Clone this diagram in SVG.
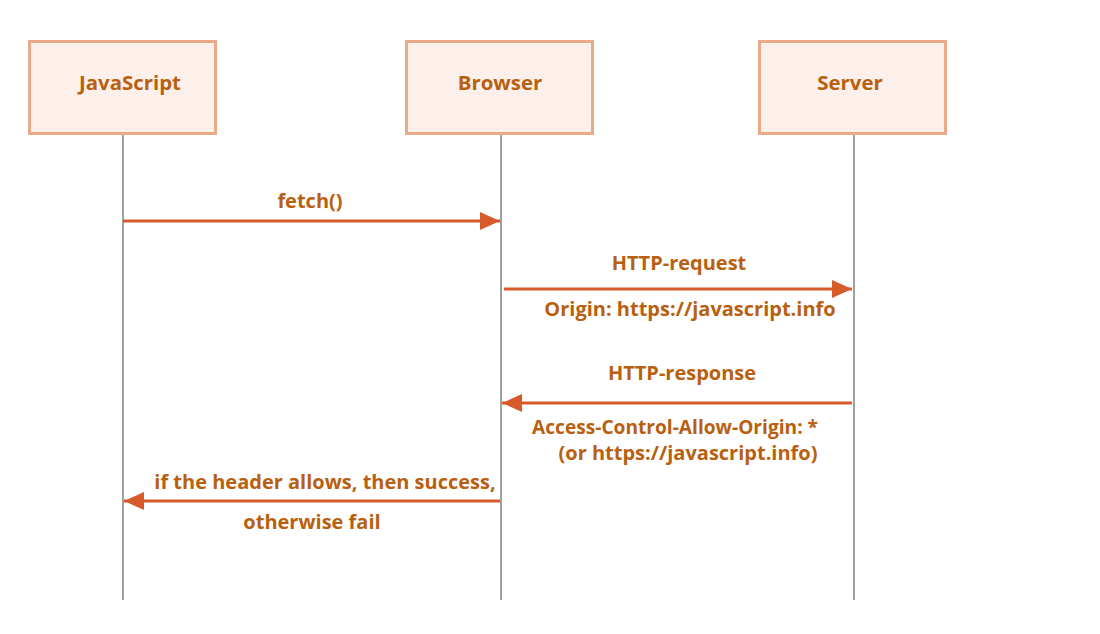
<svg xmlns="http://www.w3.org/2000/svg" width="1100" height="634" viewBox="0 0 1100 634">
<style>
.box{fill:#fdf0ea;stroke:#e9aa8a;stroke-width:3}
.life{stroke:#6e6e6e;stroke-width:1.3}
.title{font-family:"Open Sans",sans-serif;font-weight:bold;font-size:20.4px;fill:#b8600f;text-anchor:middle}
.lbl{font-family:"Open Sans",sans-serif;font-weight:bold;font-size:20px;fill:#b8600f;text-anchor:middle}
.arr{stroke:#d75a2b;stroke-width:3;fill:none}
</style>
<defs>
<marker id="ah" viewBox="0 0 20 18" refX="20" refY="9" markerWidth="20" markerHeight="18" markerUnits="userSpaceOnUse" orient="auto">
<path d="M0,0 L20,9 L0,18 Z" fill="#d75a2b"/>
</marker>
</defs>
<rect width="1100" height="634" fill="#ffffff"/>
<g id="lifelines">
<line class="life" x1="123" y1="134" x2="123" y2="600"/>
<line class="life" x1="501" y1="134" x2="501" y2="600"/>
<line class="life" x1="854" y1="134" x2="854" y2="600"/>
</g>
<g id="node-javascript">
<rect class="box" x="29.5" y="41.5" width="186" height="92"/>
<text class="title" x="130" y="90">JavaScript</text>
</g>
<g id="node-browser">
<rect class="box" x="406.5" y="41.5" width="186" height="92"/>
<text class="title" x="500" y="90">Browser</text>
</g>
<g id="node-server">
<rect class="box" x="759.5" y="41.5" width="186" height="92"/>
<text class="title" x="850" y="90">Server</text>
</g>
<g id="connectors">
<line class="arr" x1="123" y1="221" x2="500" y2="221" marker-end="url(#ah)"/>
<line class="arr" x1="504" y1="289" x2="852" y2="289" marker-end="url(#ah)"/>
<line class="arr" x1="852" y1="403" x2="502" y2="403" marker-end="url(#ah)"/>
<line class="arr" x1="500" y1="501" x2="124" y2="501" marker-end="url(#ah)"/>
</g>
<g id="labels">
<text class="lbl" x="310" y="208">fetch()</text>
<text class="lbl" x="679" y="270">HTTP-request</text>
<text class="lbl" x="690" y="316">Origin: https://javascript.info</text>
<text class="lbl" x="682" y="380">HTTP-response</text>
<text class="lbl" x="675" y="434" textLength="286" lengthAdjust="spacingAndGlyphs">Access-Control-Allow-Origin: *</text>
<text class="lbl" x="688" y="460">(or https://javascript.info)</text>
<text class="lbl" x="325" y="489">if the header allows, then success,</text>
<text class="lbl" x="312" y="529">otherwise fail</text>
</g>
</svg>
